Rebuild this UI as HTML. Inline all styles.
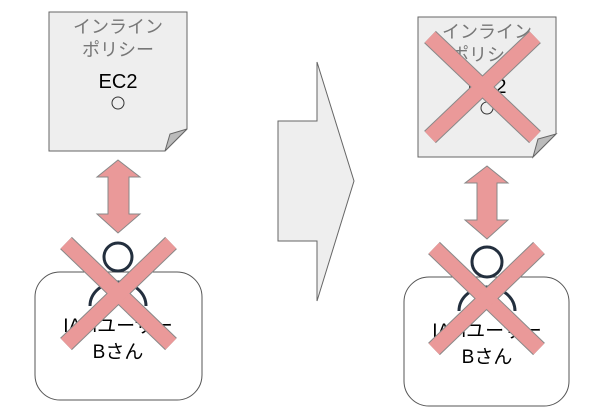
<!DOCTYPE html>
<html><head><meta charset="utf-8"><style>
html,body{margin:0;padding:0;background:#fff;width:601px;height:415px;overflow:hidden}
text{font-family:"Liberation Sans","Noto Sans CJK JP",sans-serif}
</style></head><body>
<svg width="601" height="415" viewBox="0 0 601 415" xmlns="http://www.w3.org/2000/svg">
<path d="M49,12 H187 V129 L165,151 H49 Z" fill="#eeeeee" stroke="#666" stroke-width="1"/>
<path d="M165,151 L170,134 L187,129 Z" fill="#bbbbbb" stroke="#666" stroke-width="1"/>
<text x="118" y="33" font-size="18" fill="#777" text-anchor="middle">インライン</text>
<text x="118" y="56" font-size="18" fill="#777" text-anchor="middle">ポリシー</text>
<text x="118" y="88" font-size="20" fill="#000" text-anchor="middle">EC2</text>
<circle cx="118" cy="103" r="6" fill="none" stroke="#333" stroke-width="1"/>
<path d="M118,160 L140,177 H129 V214 H140 L118,233 L97,214 H108 V177 H97 Z" fill="#ea9999" stroke="#888" stroke-width="1"/>
<rect x="35" y="272" width="167" height="128" rx="25" fill="#fff" stroke="#555" stroke-width="1"/>
<path d="M90,306 A28,24 0 0 1 146,306" fill="none" stroke="#232f3e" stroke-width="3"/>
<circle cx="118" cy="257" r="14" fill="#fff" stroke="#232f3e" stroke-width="3"/>
<text x="118" y="332" font-size="19" fill="#000" text-anchor="middle">IAMユーザー</text>
<text x="118" y="358" font-size="19" fill="#000" text-anchor="middle">Bさん</text>
<g>
<line x1="66" y1="243" x2="171" y2="344" stroke="#888" stroke-width="17"/>
<line x1="171" y1="243" x2="66" y2="344" stroke="#888" stroke-width="17"/>
<line x1="66" y1="243" x2="171" y2="344" stroke="#ea9999" stroke-width="15"/>
<line x1="171" y1="243" x2="66" y2="344" stroke="#ea9999" stroke-width="15"/>
</g>
<path d="M278,121 H317 V62 L354,181 L317,301 V241 H278 Z" fill="#eeeeee" stroke="#666" stroke-width="1"/>
<path d="M418,17 H556 V134 L533,157 H418 Z" fill="#eeeeee" stroke="#666" stroke-width="1"/>
<path d="M533,157 L538,139 L556,134 Z" fill="#bbbbbb" stroke="#666" stroke-width="1"/>
<text x="487" y="38" font-size="18" fill="#777" text-anchor="middle">インライン</text>
<text x="487" y="61" font-size="18" fill="#777" text-anchor="middle">ポリシー</text>
<text x="487" y="93" font-size="20" fill="#000" text-anchor="middle">EC2</text>
<circle cx="487" cy="108" r="6" fill="none" stroke="#333" stroke-width="1"/>
<g>
<line x1="430" y1="37" x2="535" y2="137" stroke="#888" stroke-width="17"/>
<line x1="535" y1="37" x2="430" y2="137" stroke="#888" stroke-width="17"/>
<line x1="430" y1="37" x2="535" y2="137" stroke="#ea9999" stroke-width="15"/>
<line x1="535" y1="37" x2="430" y2="137" stroke="#ea9999" stroke-width="15"/>
</g>
<path d="M487,166 L508,183 H497 V220 H508 L487,239 L465,220 H477 V183 H465 Z" fill="#ea9999" stroke="#888" stroke-width="1"/>
<rect x="404" y="277" width="165" height="129" rx="25" fill="#fff" stroke="#555" stroke-width="1"/>
<path d="M459,311 A28,24 0 0 1 515,311" fill="none" stroke="#232f3e" stroke-width="3"/>
<circle cx="487" cy="262" r="15" fill="#fff" stroke="#232f3e" stroke-width="3"/>
<text x="487" y="337" font-size="19" fill="#000" text-anchor="middle">IAMユーザー</text>
<text x="487" y="363" font-size="19" fill="#000" text-anchor="middle">Bさん</text>
<g>
<line x1="434" y1="248" x2="539" y2="349" stroke="#888" stroke-width="17"/>
<line x1="539" y1="248" x2="434" y2="349" stroke="#888" stroke-width="17"/>
<line x1="434" y1="248" x2="539" y2="349" stroke="#ea9999" stroke-width="15"/>
<line x1="539" y1="248" x2="434" y2="349" stroke="#ea9999" stroke-width="15"/>
</g>
</svg>
</body></html>
